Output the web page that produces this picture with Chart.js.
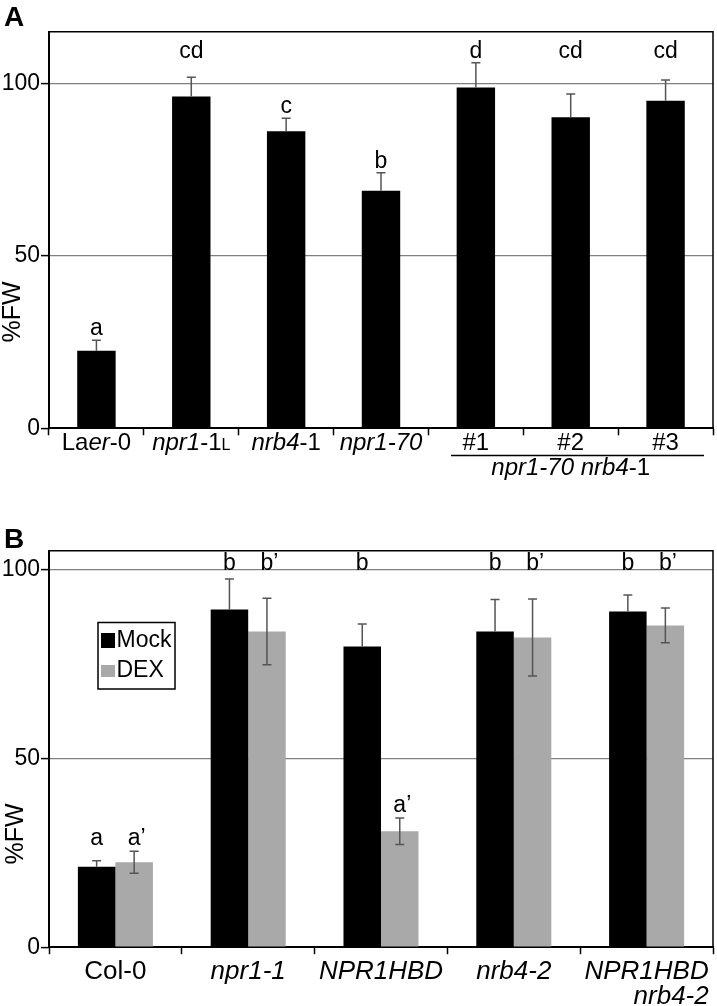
<!DOCTYPE html>
<html>
<head>
<meta charset="utf-8">
<script src="https://cdn.jsdelivr.net/npm/chart.js@4"></script>
<style>
  html, body { margin: 0; padding: 0; background: #fff; }
  .panel { position: absolute; left: 0; width: 717px; }
  #panelA { top: 0; height: 490px; }
  #panelB { top: 490px; height: 516px; }
</style>
</head>
<body>
<div class="panel" id="panelA"><canvas id="chartA" width="717" height="490"></canvas></div>
<div class="panel" id="panelB"><canvas id="chartB" width="717" height="516"></canvas></div>
<script>
// Panel A data (<i> = italic, <s> = small upright)
const categoriesA = ['La<i>er</i>-0', '<i>npr1</i>-1<s>L</s>', '<i>nrb4</i>-1', '<i>npr1-70</i>', '#1', '#2', '#3'];
const valuesA = [22.5, 96.2, 86.1, 68.9, 98.8, 90.2, 95.0];
const errorsA = [3.0, 5.6, 3.8, 5.2, 7.2, 6.7, 6.0];
const lettersA = ['a', 'cd', 'c', 'b', 'd', 'cd', 'cd'];
const groupLabelA = '<i>npr1-70 nrb4</i>-1';
const yTicksA = [0, 50, 100];

// Panel B data ('|' splits a label over two lines)
const categoriesB = ['Col-0', '<i>npr1-1</i>', '<i>NPR1HBD</i>', '<i>nrb4-2</i>', '<i>NPR1HBD</i>|<i>nrb4-2</i>'];
const mockB = [21.3, 89.4, 79.6, 83.6, 88.9];
const mockErrB = [1.6, 8.1, 6.0, 8.5, 4.4];
const dexB = [22.5, 83.6, 30.7, 82.0, 85.2];
const dexErrB = [2.9, 8.8, 3.5, 10.2, 4.6];
const lettersMockB = ['a', 'b', 'b', 'b', 'b'];
const lettersDexB = ['a\u2019', 'b\u2019', 'a\u2019', 'b\u2019', 'b\u2019'];
const yTicksB = [0, 50, 100];

const FONT = '"Liberation Sans", Arial, sans-serif';
const GREY = '#a9a9a9';

function parseRuns(str) {
    const runs = [];
    const re = /<(i|s)>(.*?)<\/\1>|([^<]+)/g;
    let m;
    while ((m = re.exec(str))) {
        if (m[3]) runs.push({ text: m[3], style: '' });
        else runs.push({ text: m[2], style: m[1] });
    }
    return runs;
}

function runFont(style, size) {
    if (style === 'i') return 'italic ' + size + 'px ' + FONT;
    if (style === 's') return Math.round(size * 0.68) + 'px ' + FONT;
    return size + 'px ' + FONT;
}

function drawRich(ctx, str, x, y, size, align) {
    const runs = parseRuns(str);
    let w = 0;
    runs.forEach(r => {
        ctx.font = runFont(r.style, size);
        r.w = ctx.measureText(r.text).width;
        w += r.w;
    });
    let cx = align === 'right' ? x - w : (align === 'left' ? x : x - w / 2);
    ctx.textAlign = 'left';
    ctx.textBaseline = 'alphabetic';
    runs.forEach(r => {
        ctx.font = runFont(r.style, size);
        ctx.fillText(r.text, cx, y);
        cx += r.w;
    });
    return w;
}

function drawErrorBar(ctx, x, val, err, yScale, both) {
    const top = yScale.getPixelForValue(val + err);
    const low = yScale.getPixelForValue(both ? val - err : val);
    ctx.save();
    ctx.strokeStyle = '#555';
    ctx.lineWidth = 1.5;
    ctx.beginPath();
    ctx.moveTo(x, low); ctx.lineTo(x, top);
    ctx.moveTo(x - 4.5, top); ctx.lineTo(x + 4.5, top);
    if (both) { ctx.moveTo(x - 4.5, low); ctx.lineTo(x + 4.5, low); }
    ctx.stroke();
    ctx.restore();
}

// letter centred on its base glyph, the prime hangs to the right
function drawLetter(ctx, text, x, y) {
    ctx.save();
    ctx.font = '23px ' + FONT;
    ctx.fillStyle = '#000';
    ctx.textAlign = 'left';
    ctx.textBaseline = 'alphabetic';
    const base = text.replace('\u2019', '');
    const w = ctx.measureText(base).width;
    ctx.fillText(text, x - w / 2, y);
    ctx.restore();
}

function drawFrameAndTitles(chart, panelLetter, letterY, titleX, titleY) {
    const ctx = chart.ctx;
    const a = chart.chartArea;
    ctx.save();
    ctx.strokeStyle = '#000';
    ctx.lineWidth = 1.5;
    ctx.beginPath();
    ctx.moveTo(a.left, a.top); ctx.lineTo(a.right, a.top); ctx.lineTo(a.right, a.bottom);
    ctx.stroke();

    ctx.fillStyle = '#000';
    ctx.font = 'bold 28px ' + FONT;
    ctx.textAlign = 'left';
    ctx.textBaseline = 'alphabetic';
    ctx.fillText(panelLetter, 4, letterY);

    ctx.translate(titleX, titleY);
    ctx.rotate(-Math.PI / 2);
    ctx.font = '25px ' + FONT;
    ctx.textAlign = 'center';
    ctx.textBaseline = 'middle';
    ctx.fillText('%FW', 0, 0);
    ctx.restore();
}

function baseOptions(cfg) {
    return {
        responsive: false,
        animation: false,
        layout: { padding: { top: cfg.padTop, right: 4, left: 0, bottom: 0 } },
        plugins: { legend: { display: false }, tooltip: { enabled: false } },
        scales: {
            x: {
                offset: true,
                grid: { offset: true, drawOnChartArea: false, tickLength: 7, tickColor: '#000', tickWidth: 1.5 },
                border: { color: '#000', width: 2 },
                ticks: { display: false },
                afterFit: s => { s.height = cfg.xHeight; }
            },
            y: {
                min: 0,
                max: cfg.max,
                afterBuildTicks: s => { s.ticks = cfg.yTicks.map(v => ({ value: v })); },
                afterFit: s => { s.width = 49; },
                grid: {
                    color: c => (c.tick && c.tick.value === 0) ? 'rgba(0,0,0,0)' : '#808080',
                    lineWidth: 1.2,
                    tickLength: 8,
                    tickColor: '#000',
                    tickWidth: 1.5
                },
                border: { color: '#000', width: 2 },
                ticks: { color: '#000', font: { family: FONT, size: 23 }, padding: 1 }
            }
        }
    };
}

// Panel A
const panelAPlugin = {
    id: 'panelA',
    afterDatasetsDraw(chart) {
        const ctx = chart.ctx;
        const y = chart.scales.y;
        const meta = chart.getDatasetMeta(0);
        meta.data.forEach((bar, i) => {
            drawErrorBar(ctx, bar.x, valuesA[i], errorsA[i], y, false);
            const top = valuesA[i] + errorsA[i];
            const ly = top > 95 ? y.getPixelForValue(107.5) : y.getPixelForValue(top) - 5;
            drawLetter(ctx, lettersA[i], bar.x, ly);
        });
    },
    afterDraw(chart) {
        const ctx = chart.ctx;
        const x = chart.scales.x;
        drawFrameAndTitles(chart, 'A', 26, 13, 312);
        ctx.save();
        ctx.fillStyle = '#000';
        categoriesA.forEach((c, i) => drawRich(ctx, c, x.getPixelForValue(i), 450, 24, 'center'));
        // underline grouping #1..#3
        ctx.strokeStyle = '#000';
        ctx.lineWidth = 1.5;
        ctx.beginPath();
        ctx.moveTo(451, 455.5); ctx.lineTo(704, 455.5);
        ctx.stroke();
        const gx = (x.getPixelForValue(4) + x.getPixelForValue(6)) / 2;
        drawRich(ctx, groupLabelA, gx, 475, 24, 'center');
        ctx.restore();
    }
};

new Chart(document.getElementById('chartA'), {
    type: 'bar',
    data: {
        labels: categoriesA,
        datasets: [{
            data: valuesA,
            backgroundColor: '#000',
            borderWidth: 0,
            barPercentage: 0.405,
            categoryPercentage: 1
        }]
    },
    options: baseOptions({ padTop: 31.7, xHeight: 61.7, max: 115, yTicks: yTicksA }),
    plugins: [panelAPlugin]
});

// Panel B
const panelBPlugin = {
    id: 'panelB',
    afterDatasetsDraw(chart) {
        const ctx = chart.ctx;
        const y = chart.scales.y;
        const mockBars = chart.getDatasetMeta(0).data;
        const dexBars = chart.getDatasetMeta(1).data;
        const rowTop = y.getPixelForValue(100) + 0.5;
        categoriesB.forEach((c, i) => {
            drawErrorBar(ctx, mockBars[i].x, mockB[i], mockErrB[i], y, false);
            drawErrorBar(ctx, dexBars[i].x, dexB[i], dexErrB[i], y, true);
            // high bars get their letter in the top row, low bars just above the error bar
            const tops = [mockB[i] + mockErrB[i], dexB[i] + dexErrB[i]];
            const low = tops.filter(t => t <= 60);
            const lowY = low.length ? y.getPixelForValue(Math.max(...low)) - 6 : 0;
            drawLetter(ctx, lettersMockB[i], mockBars[i].x, tops[0] > 60 ? rowTop : lowY);
            drawLetter(ctx, lettersDexB[i], dexBars[i].x, tops[1] > 60 ? rowTop : lowY);
        });
    },
    afterDraw(chart) {
        const ctx = chart.ctx;
        const x = chart.scales.x;
        drawFrameAndTitles(chart, 'B', 58, 16, 344);
        ctx.save();
        ctx.fillStyle = '#000';
        categoriesB.forEach((c, i) => {
            const cx = x.getPixelForValue(i);
            const lines = c.split('|');
            const w = drawRich(ctx, lines[0], cx, 489, 26, 'center');
            if (lines[1]) drawRich(ctx, lines[1], cx + w / 2, 514, 26, 'right');
        });

        // legend box
        ctx.strokeStyle = '#000';
        ctx.lineWidth = 1.5;
        ctx.strokeRect(98, 132.5, 77, 66.5);
        const items = chart.data.datasets;
        const rows = [143, 175];
        items.forEach((ds, k) => {
            ctx.fillStyle = ds.backgroundColor;
            ctx.fillRect(101, rows[k], 14, k === 0 ? 15 : 12);
            ctx.fillStyle = '#000';
            ctx.font = '23px ' + FONT;
            ctx.textAlign = 'left';
            ctx.textBaseline = 'middle';
            ctx.fillText(ds.label, 116.5, rows[k] + (k === 0 ? 8 : 6));
        });
        ctx.restore();
    }
};

new Chart(document.getElementById('chartB'), {
    type: 'bar',
    data: {
        labels: categoriesB,
        datasets: [
            { label: 'Mock', data: mockB, backgroundColor: '#000', borderWidth: 0, barPercentage: 1, categoryPercentage: 0.565 },
            { label: 'DEX', data: dexB, backgroundColor: GREY, borderWidth: 0, barPercentage: 1, categoryPercentage: 0.565 }
        ]
    },
    options: baseOptions({ padTop: 60.7, xHeight: 58.8, max: 105, yTicks: yTicksB }),
    plugins: [panelBPlugin]
});
</script>
</body>
</html>
